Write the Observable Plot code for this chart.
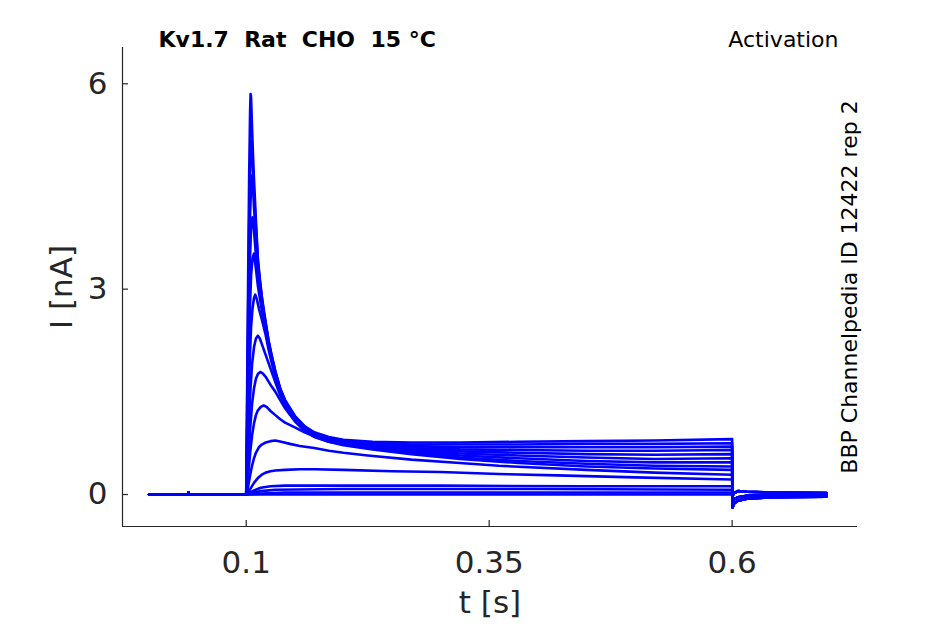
<!DOCTYPE html>
<html>
<head>
<meta charset="utf-8">
<script src="https://cdn.jsdelivr.net/npm/d3@7"></script>
<script src="https://cdn.jsdelivr.net/npm/@observablehq/plot@0.6"></script>
<style>
  html, body { margin: 0; padding: 0; background: #fff; }
  #chart { width: 945px; height: 624px; }
</style>
</head>
<body>
<div id="chart"></div>
<script>
// ---- Data (t in s, I in nA) ----
const titleText = "Kv1.7  Rat  CHO  15 °C";
const protocolText = "Activation";
const sourceText = "BBP Channelpedia ID 12422 rep 2";
const xLabel = "t [s]";
const yLabel = "I [nA]";
const xTicks = [0.1, 0.35, 0.6];
const yTicks = [0, 3, 6];
const xDomain = [-0.0273, 0.729];
const yDomain = [-0.467, 6.53];

const baseline = [[0, 0], [0.04, 0], [0.0405, 0.03], [0.041, 0], [0.1, 0]];

const tr01 = [[0.101,1.6],[0.102,3.2],[0.103,4.6],[0.104,5.6],[0.1045,5.85],[0.105,5.8],[0.106,5.35],[0.107,4.95],[0.108,4.6],[0.11,4.0],[0.112,3.45],[0.114,3.15],[0.116,2.9],[0.118,2.7],[0.12,2.52],[0.123,2.25],[0.126,2.05],[0.13,1.8],[0.135,1.55],[0.14,1.38],[0.15,1.15],[0.16,1.0],[0.17,0.91],[0.185,0.84],[0.2,0.8],[0.23,0.77],[0.27,0.76],[0.32,0.76],[0.38,0.77],[0.45,0.78],[0.52,0.79],[0.6,0.81]];
const tr02 = [[0.101,1.3],[0.102,2.7],[0.103,3.9],[0.104,4.8],[0.105,5.17],[0.106,5.0],[0.107,4.7],[0.108,4.4],[0.11,3.9],[0.112,3.4],[0.114,3.12],[0.116,2.88],[0.118,2.68],[0.12,2.5],[0.123,2.24],[0.126,2.03],[0.13,1.79],[0.135,1.54],[0.14,1.37],[0.15,1.14],[0.16,0.99],[0.17,0.9],[0.185,0.83],[0.2,0.79],[0.23,0.75],[0.27,0.73],[0.32,0.73],[0.38,0.73],[0.45,0.74],[0.52,0.74],[0.6,0.75]];
const tr03 = [[0.101,1.0],[0.102,2.2],[0.103,3.3],[0.104,4.1],[0.105,4.5],[0.106,4.66],[0.107,4.5],[0.108,4.2],[0.11,3.75],[0.112,3.35],[0.114,3.08],[0.116,2.85],[0.118,2.65],[0.12,2.48],[0.123,2.22],[0.126,2.01],[0.13,1.77],[0.135,1.53],[0.14,1.36],[0.15,1.13],[0.16,0.98],[0.17,0.89],[0.185,0.82],[0.2,0.78],[0.23,0.74],[0.27,0.71],[0.32,0.69],[0.38,0.69],[0.45,0.69],[0.52,0.69],[0.6,0.7]];
const tr04 = [[0.101,0.8],[0.102,1.8],[0.103,2.8],[0.104,3.5],[0.105,3.9],[0.1065,4.05],[0.108,3.85],[0.11,3.5],[0.112,3.2],[0.114,2.98],[0.116,2.78],[0.118,2.6],[0.12,2.44],[0.123,2.19],[0.126,1.99],[0.13,1.76],[0.135,1.52],[0.14,1.35],[0.15,1.12],[0.16,0.97],[0.17,0.88],[0.185,0.81],[0.2,0.77],[0.23,0.72],[0.27,0.69],[0.32,0.66],[0.38,0.65],[0.45,0.64],[0.52,0.64],[0.6,0.65]];
const tr05 = [[0.101,0.6],[0.102,1.4],[0.103,2.2],[0.104,2.8],[0.105,3.2],[0.1065,3.45],[0.108,3.52],[0.11,3.3],[0.112,3.05],[0.114,2.87],[0.116,2.7],[0.118,2.54],[0.12,2.4],[0.123,2.16],[0.126,1.97],[0.13,1.74],[0.135,1.5],[0.14,1.33],[0.15,1.11],[0.16,0.96],[0.17,0.87],[0.185,0.8],[0.2,0.76],[0.23,0.71],[0.27,0.67],[0.32,0.63],[0.38,0.61],[0.45,0.59],[0.52,0.58],[0.6,0.59]];
const tr06 = [[0.101,0.45],[0.102,1.0],[0.103,1.6],[0.104,2.1],[0.105,2.45],[0.1065,2.72],[0.108,2.87],[0.1093,2.92],[0.111,2.85],[0.113,2.72],[0.116,2.56],[0.118,2.45],[0.12,2.33],[0.123,2.12],[0.126,1.94],[0.13,1.72],[0.135,1.49],[0.14,1.32],[0.15,1.1],[0.16,0.95],[0.17,0.86],[0.185,0.79],[0.2,0.75],[0.23,0.7],[0.27,0.65],[0.32,0.6],[0.38,0.57],[0.45,0.54],[0.52,0.52],[0.6,0.53]];
const tr07 = [[0.101,0.3],[0.102,0.7],[0.103,1.1],[0.104,1.45],[0.106,1.9],[0.108,2.15],[0.11,2.28],[0.112,2.32],[0.114,2.28],[0.116,2.2],[0.118,2.12],[0.12,2.04],[0.123,1.92],[0.126,1.8],[0.13,1.64],[0.135,1.45],[0.14,1.3],[0.15,1.09],[0.16,0.94],[0.17,0.85],[0.185,0.78],[0.2,0.74],[0.23,0.68],[0.27,0.63],[0.32,0.57],[0.38,0.53],[0.45,0.49],[0.52,0.47],[0.6,0.47]];
const tr08 = [[0.101,0.2],[0.102,0.45],[0.104,0.95],[0.106,1.32],[0.108,1.55],[0.11,1.69],[0.112,1.76],[0.1144,1.79],[0.117,1.77],[0.12,1.72],[0.123,1.65],[0.126,1.58],[0.13,1.5],[0.135,1.38],[0.14,1.26],[0.15,1.07],[0.16,0.93],[0.17,0.84],[0.185,0.77],[0.2,0.73],[0.23,0.67],[0.27,0.61],[0.32,0.54],[0.38,0.49],[0.45,0.45],[0.52,0.42],[0.6,0.41]];
const tr09 = [[0.101,0.12],[0.102,0.28],[0.104,0.6],[0.106,0.86],[0.108,1.04],[0.11,1.16],[0.112,1.23],[0.115,1.28],[0.118,1.3],[0.121,1.28],[0.125,1.22],[0.13,1.16],[0.135,1.1],[0.14,1.05],[0.15,0.98],[0.16,0.91],[0.17,0.85],[0.185,0.77],[0.2,0.72],[0.23,0.66],[0.27,0.59],[0.32,0.52],[0.38,0.46],[0.45,0.41],[0.52,0.38],[0.6,0.36]];
const tr10 = [[0.101,0.05],[0.102,0.12],[0.104,0.28],[0.106,0.42],[0.108,0.53],[0.11,0.61],[0.113,0.69],[0.116,0.73],[0.12,0.76],[0.125,0.78],[0.13,0.79],[0.136,0.77],[0.145,0.74],[0.155,0.71],[0.17,0.68],[0.185,0.64],[0.2,0.61],[0.225,0.57],[0.27,0.51],[0.32,0.46],[0.36,0.42],[0.45,0.36],[0.52,0.32],[0.6,0.29]];
const tr11 = [[0.102,0.03],[0.105,0.1],[0.108,0.17],[0.112,0.24],[0.116,0.29],[0.12,0.32],[0.125,0.34],[0.13,0.35],[0.14,0.36],[0.155,0.37],[0.17,0.37],[0.2,0.36],[0.25,0.34],[0.3,0.33],[0.36,0.3],[0.42,0.28],[0.5,0.25],[0.6,0.22]];
const tr12 = [[0.103,0.02],[0.108,0.06],[0.115,0.1],[0.125,0.12],[0.14,0.13],[0.2,0.13],[0.3,0.13],[0.45,0.12],[0.6,0.12]];
const tr13 = [[0.105,0.02],[0.115,0.05],[0.13,0.07],[0.2,0.08],[0.4,0.08],[0.6,0.07]];
const tr14 = [[0.11,0.01],[0.14,0.03],[0.6,0.03]];
const tr15 = [[0.6,0.0]];

const tailBig = [[0.6004,-0.19],[0.602,-0.13],[0.606,-0.09],[0.615,-0.06],[0.64,-0.04],[0.697,-0.03]];
const tailMid = [[0.6004,-0.12],[0.602,-0.07],[0.606,-0.04],[0.615,-0.02],[0.64,-0.01],[0.697,0]];
const tailSmall = [[0.6004,-0.02],[0.602,0.02],[0.606,0.05],[0.615,0.04],[0.64,0.03],[0.697,0.02]];

const steps = [tr01, tr02, tr03, tr04, tr05, tr06, tr07, tr08, tr09, tr10, tr11, tr12, tr13, tr14, tr15];
const tails = [tailBig, tailBig, tailBig, tailBig, tailBig, tailMid, tailMid, tailMid, tailMid, tailMid, tailSmall, tailSmall, tailSmall, tailSmall, tailSmall];

const rows = steps.flatMap((pts, i) =>
  [...baseline, ...pts, ...tails[i]].map(([t, I]) => ({trace: i, t, I}))
);

// ---- Layout ----
const W = 945, H = 624;
const mL = 122, mR = 88, mT = 47, mB = 98;
const innerW = W - mL - mR, innerH = H - mT - mB;
const axisColor = "#262626";
const font = "DejaVu Sans, Liberation Sans, sans-serif";

const chart = Plot.plot({
  width: W, height: H,
  marginLeft: mL, marginRight: mR, marginTop: mT, marginBottom: mB,
  style: {fontFamily: font, background: "#fff", overflow: "visible"},
  x: {domain: xDomain},
  y: {domain: yDomain},
  marks: [
    Plot.axisX({ticks: xTicks, tickSize: 0, tickPadding: 24, fontSize: 31, color: axisColor, label: null, tickFormat: d => String(d)}),
    Plot.axisY({ticks: yTicks, tickSize: 0, tickPadding: 15, fontSize: 31, color: axisColor, label: null, tickFormat: d => String(d)}),
    Plot.tickX(xTicks, {x: d => d, insetTop: innerH - 6, stroke: axisColor, strokeWidth: 1.2}),
    Plot.tickY(yTicks, {y: d => d, insetRight: innerW - 6, stroke: axisColor, strokeWidth: 1.2}),
    Plot.ruleX([xDomain[0]], {stroke: axisColor, strokeWidth: 1.2}),
    Plot.ruleY([yDomain[0]], {stroke: axisColor, strokeWidth: 1.2}),
    Plot.line(rows, {x: "t", y: "I", z: "trace", stroke: "#0000ff", strokeWidth: 2.6, strokeLinejoin: "round"}),
    Plot.text([titleText], {frameAnchor: "top-left", dx: 36, dy: -8, textAnchor: "start", lineAnchor: "middle", fontSize: 22, fontWeight: "bold", fill: "#000"}),
    Plot.text([protocolText], {frameAnchor: "top-right", dx: -19, dy: -8, textAnchor: "end", lineAnchor: "middle", fontSize: 22, fill: "#000"}),
    Plot.text([sourceText], {frameAnchor: "right", dx: -8, rotate: -90, textAnchor: "middle", lineAnchor: "middle", fontSize: 22, fill: "#000"}),
    Plot.text([xLabel], {frameAnchor: "bottom", dy: 77, textAnchor: "middle", lineAnchor: "middle", fontSize: 31, fill: axisColor}),
    Plot.text([yLabel], {frameAnchor: "left", dx: -60, rotate: -90, textAnchor: "middle", lineAnchor: "middle", fontSize: 31, fill: axisColor})
  ]
});
document.getElementById("chart").appendChild(chart);
</script>
</body>
</html>
